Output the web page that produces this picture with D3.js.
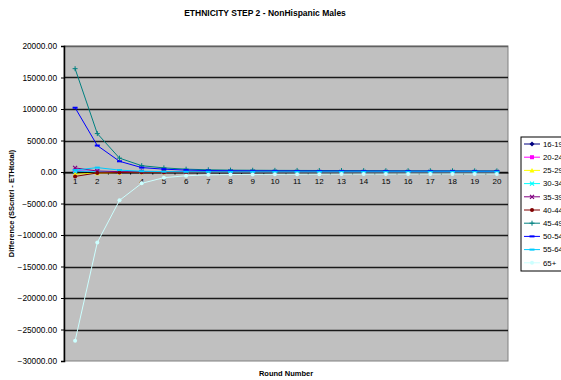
<!DOCTYPE html>
<html>
<head>
<meta charset="utf-8">
<script src="https://cdn.jsdelivr.net/npm/d3@7"></script>
<style>
  body { margin: 0; background: #fff; }
  text { font-family: "Liberation Sans", Arial, sans-serif; }
</style>
</head>
<body>
<div id="chart"></div>
<script>
// datos
const rounds = d3.range(1, 21).map(String)
const seriesNames = ["16-19", "20-24", "25-29", "30-34", "35-39", "40-44", "45-49", "50-54", "55-64", "65+"]
const s1619 = [100, 50, 30, 20, 10, 10, 5, 5, 5, 5, 5, 5, 5, 5, 5, 5, 5, 5, 5, 5]
const s2024 = [250, 80, 40, 20, 10, 10, 5, 5, 5, 5, 5, 5, 5, 5, 5, 5, 5, 5, 5, 5]
const s2529 = [-350, -180, -80, -40, -20, -10, -5, -5, -5, -5, -5, -5, -5, -5, -5, -5, -5, -5, -5, -5]
const s3034 = [150, 100, 50, 20, 10, 5, 5, 5, 5, 5, 5, 5, 5, 5, 5, 5, 5, 5, 5, 5]
const s3539 = [650, 150, 60, 30, 20, 10, 10, 5, 5, 5, 5, 5, 5, 5, 5, 5, 5, 5, 5, 5]
const s4044 = [-700, -150, -80, -40, -20, -10, -10, -5, -5, -5, -5, -5, -5, -5, -5, -5, -5, -5, -5, -5]
const s4549 = [16400, 6100, 2200, 1000, 650, 450, 350, 300, 280, 260, 250, 240, 230, 220, 210, 200, 200, 190, 190, 180]
const s5054 = [10200, 4200, 1700, 700, 450, 300, 230, 200, 180, 170, 160, 150, 150, 140, 140, 130, 130, 130, 120, 120]
const s5564 = [300, 700, 300, 120, 60, 40, 30, 20, 20, 20, 20, 20, 20, 20, 20, 20, 20, 20, 20, 20]
const s65 = [-26800, -11200, -4500, -1800, -900, -600, -450, -400, -380, -360, -350, -340, -330, -320, -320, -310, -310, -300, -300, -300]
const seriesValues = [s1619, s2024, s2529, s3034, s3539, s4044, s4549, s5054, s5564, s65]
const yTicks = [20000, 15000, 10000, 5000, 0, -5000, -10000, -15000, -20000, -25000, -30000]

const colores = ["#000080", "#FF00FF", "#FFFF00", "#00FFFF", "#800080", "#800000", "#008080", "#0000FF", "#00CCFF", "#CCFFFF"]
const marcas = ["diamond", "square", "triangle", "x", "x", "circle", "plus", "dash", "dash", "circle"]

const anchoTotal = 561
const altoTotal = 380
const margins = { left: 64, top: 46, right: 53, bottom: 19 }
const ancho = anchoTotal - margins.left - margins.right
const alto = altoTotal - margins.top - margins.bottom

const svg = d3.select("#chart")
  .append("svg")
  .attr("width", anchoTotal)
  .attr("height", altoTotal)

const g = svg.append("g")
  .attr("transform", `translate(${margins.left}, ${margins.top})`)

const x = d3.scaleBand()
  .domain(rounds)
  .range([0, ancho])

const y = d3.scaleLinear()
  .domain([-30000, 20000])
  .range([alto, 0])

// fondo
g.append("rect")
  .attr("width", ancho)
  .attr("height", alto)
  .attr("fill", "#C0C0C0")
  .attr("stroke", "#808080")
  .attr("stroke-width", 1)

// lineas de rejilla
g.append("g")
  .selectAll("line")
  .data(yTicks.filter((d) => d !== -30000))
  .join("line")
  .attr("x1", 0)
  .attr("x2", ancho)
  .attr("y1", (d) => Math.round(y(d)) + 0.5)
  .attr("y2", (d) => Math.round(y(d)) + 0.5)
  .attr("stroke", (d) => d === 20000 ? "#606060" : "#1a1a1a")
  .attr("stroke-width", 1.5)

// eje Y
const yAxis = d3.axisLeft(y)
  .tickValues(yTicks)
  .tickFormat(d3.format(".2f"))
  .tickSize(3)
  .tickPadding(4)
const yAxisGroup = g.append("g").call(yAxis)
yAxisGroup.select(".domain").attr("stroke", "#000").attr("stroke-width", 1.5)
yAxisGroup.selectAll("text").attr("font-size", 8.3).attr("fill", "#000")

// eje X sobre el cero
const xAxis = d3.axisBottom(x).tickSize(0).tickPadding(6)
const xAxisGroup = g.append("g")
  .attr("transform", `translate(0, ${Math.round(y(0)) + 0.5})`)
  .call(xAxis)
xAxisGroup.select(".domain").attr("stroke", "#000").attr("stroke-width", 1)
xAxisGroup.selectAll("text").attr("font-size", 8).attr("fill", "#000")
xAxisGroup.append("g")
  .selectAll("line")
  .data(rounds)
  .join("line")
  .attr("x1", (d) => x(d))
  .attr("x2", (d) => x(d))
  .attr("y1", 0)
  .attr("y2", 2)
  .attr("stroke", "#000")

// series
const linea = d3.line()
  .x((d, i) => x(rounds[i]) + x.bandwidth() / 2)
  .y((d) => y(d))

const simbolo = (tipo, cx, cy, color, sel) => {
  if (tipo === "diamond") {
    sel.append("path").attr("d", `M${cx},${cy - 2.5}L${cx + 2.5},${cy}L${cx},${cy + 2.5}L${cx - 2.5},${cy}Z`).attr("fill", color)
  } else if (tipo === "square") {
    sel.append("rect").attr("x", cx - 2).attr("y", cy - 2).attr("width", 4).attr("height", 4).attr("fill", color)
  } else if (tipo === "triangle") {
    sel.append("path").attr("d", `M${cx},${cy - 2.5}L${cx + 2.5},${cy + 2}L${cx - 2.5},${cy + 2}Z`).attr("fill", color)
  } else if (tipo === "x") {
    sel.append("path").attr("d", `M${cx - 2},${cy - 2}L${cx + 2},${cy + 2}M${cx - 2},${cy + 2}L${cx + 2},${cy - 2}`).attr("stroke", color).attr("stroke-width", 1.2)
  } else if (tipo === "circle") {
    sel.append("circle").attr("cx", cx).attr("cy", cy).attr("r", 2).attr("fill", color)
  } else if (tipo === "plus") {
    sel.append("path").attr("d", `M${cx - 2.5},${cy}L${cx + 2.5},${cy}M${cx},${cy - 2.5}L${cx},${cy + 2.5}`).attr("stroke", color).attr("stroke-width", 1)
  } else if (tipo === "dash") {
    sel.append("rect").attr("x", cx - 2.5).attr("y", cy - 1).attr("width", 5).attr("height", 2).attr("fill", color)
  }
}

const gSeries = g.append("g")
seriesValues.forEach((vals, k) => {
  const gs = gSeries.append("g")
  gs.append("path")
    .datum(vals)
    .attr("d", linea)
    .attr("fill", "none")
    .attr("stroke", colores[k])
    .attr("stroke-width", 1)
  vals.forEach((v, i) => {
    simbolo(marcas[k], x(rounds[i]) + x.bandwidth() / 2, y(v), colores[k], gs)
  })
})

// leyenda
const leg = svg.append("g").attr("transform", "translate(521, 137)")
leg.append("rect")
  .attr("width", 60)
  .attr("height", 134)
  .attr("fill", "#fff")
  .attr("stroke", "#000")
  .attr("stroke-width", 1)
seriesNames.forEach((name, k) => {
  const yy = 7 + k * 13.2
  leg.append("line")
    .attr("x1", 3).attr("x2", 19)
    .attr("y1", yy).attr("y2", yy)
    .attr("stroke", colores[k])
    .attr("stroke-width", 1)
  simbolo(marcas[k], 11, yy, colores[k], leg)
  leg.append("text")
    .attr("x", 22)
    .attr("y", yy + 2.8)
    .attr("font-size", 7.8)
    .text(name)
})

// titulos
svg.append("text")
  .attr("x", 265)
  .attr("y", 16)
  .attr("text-anchor", "middle")
  .attr("font-size", 8.5)
  .attr("font-weight", "bold")
  .text("ETHNICITY STEP 2 - NonHispanic Males")

svg.append("text")
  .attr("x", margins.left + ancho / 2)
  .attr("y", 376)
  .attr("text-anchor", "middle")
  .attr("font-size", 7.5)
  .attr("font-weight", "bold")
  .text("Round Number")

svg.append("text")
  .attr("transform", `translate(14, ${margins.top + alto / 2}) rotate(-90)`)
  .attr("text-anchor", "middle")
  .attr("font-size", 7.5)
  .attr("font-weight", "bold")
  .text("Difference (SScntrl - ETHtotal)")
</script>
</body>
</html>
